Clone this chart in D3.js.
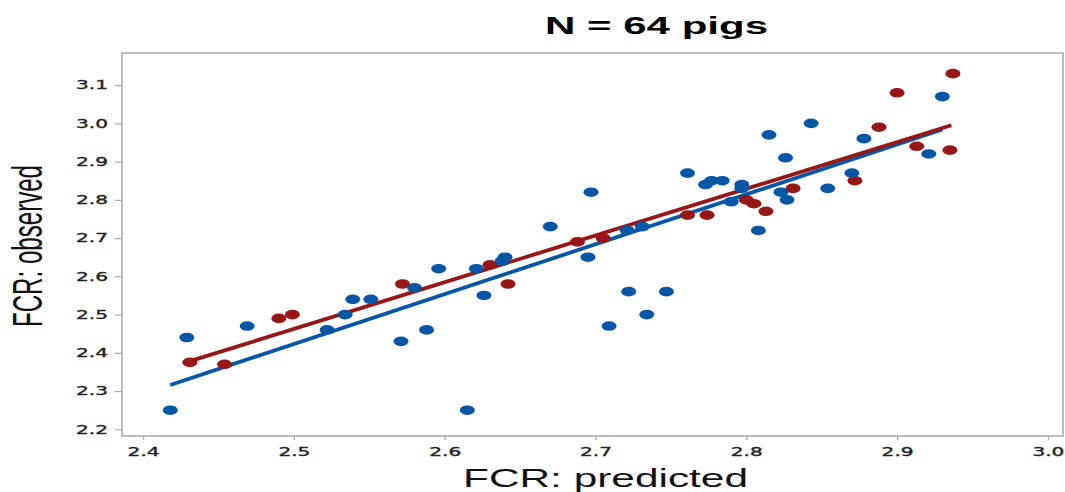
<!DOCTYPE html>
<html>
<head>
<meta charset="utf-8">
<title>FCR observed vs predicted</title>
<style>
  body { margin: 0; background: #fff; }
  .tick text { font-family: "DejaVu Sans", Verdana, sans-serif; fill: #222; stroke: #222; stroke-width: 0.35; }
</style>
<script src="https://cdn.jsdelivr.net/npm/d3@7"></script>
</head>
<body>
<script>
// values: predicted FCR (x) and observed FCR (y)
var blueX = [2.418, 2.429, 2.469, 2.522, 2.534, 2.539, 2.551, 2.571, 2.580, 2.588,
             2.596, 2.615, 2.621, 2.626, 2.638, 2.640, 2.670, 2.695, 2.697, 2.709,
             2.721, 2.722, 2.731, 2.734, 2.747, 2.761, 2.773, 2.777, 2.784, 2.790,
             2.797, 2.797, 2.808, 2.815, 2.823, 2.826, 2.827, 2.843, 2.854, 2.870,
             2.878, 2.921, 2.930];
var blueY = [2.25, 2.44, 2.47, 2.46, 2.50, 2.54, 2.54, 2.43, 2.57, 2.46,
             2.62, 2.25, 2.62, 2.55, 2.64, 2.65, 2.73, 2.65, 2.82, 2.47,
             2.72, 2.56, 2.73, 2.50, 2.56, 2.87, 2.84, 2.85, 2.85, 2.795,
             2.84, 2.83, 2.72, 2.97, 2.82, 2.91, 2.80, 3.00, 2.83, 2.87,
             2.96, 2.92, 3.07];
var redX = [2.431, 2.454, 2.490, 2.499, 2.572, 2.630, 2.642, 2.688, 2.705, 2.761,
            2.774, 2.800, 2.805, 2.813, 2.831, 2.872, 2.888, 2.900, 2.913, 2.935,
            2.937];
var redY = [2.375, 2.37, 2.49, 2.50, 2.58, 2.63, 2.58, 2.69, 2.70, 2.76,
            2.76, 2.80, 2.79, 2.77, 2.83, 2.85, 2.99, 3.08, 2.94, 2.93,
            3.13];

// fitted lines, end points
var blueFitX = [2.418, 2.930], blueFitY = [2.316, 2.984];
var redFitX = [2.430, 2.936], redFitY = [2.377, 2.995];

var xTicks = [2.4, 2.5, 2.6, 2.7, 2.8, 2.9, 3.0];
var yTicks = [2.2, 2.3, 2.4, 2.5, 2.6, 2.7, 2.8, 2.9, 3.0, 3.1];

var blueCol = "#0656a6", redCol = "#971616";

var W = 1065, H = 492;
var frame = { left: 122, top: 53, right: 1063, bottom: 436 };

var svg = d3.select("body").append("svg")
    .attr("width", W)
    .attr("height", H);

var x = d3.scaleLinear().domain([2.386, 3.010]).range([frame.left, frame.right]);
var y = d3.scaleLinear().domain([2.1825, 3.184]).range([frame.bottom, frame.top]);

function zip(a, b) { return a.map(function(v, i) { return [v, b[i]]; }); }

// axes
var yAxis = svg.append("g")
    .attr("transform", "translate(" + frame.left + ",0)")
    .call(d3.axisLeft(y).tickValues(yTicks).tickFormat(d3.format(".1f"))
        .tickSize(7).tickPadding(7));
var xAxis = svg.append("g")
    .attr("transform", "translate(0," + frame.bottom + ")")
    .call(d3.axisBottom(x).tickValues(xTicks).tickFormat(d3.format(".1f"))
        .tickSize(4).tickPadding(7.5));

[xAxis, yAxis].forEach(function(g) {
    g.select(".domain").remove();
    g.selectAll(".tick line").attr("stroke", "#a8a8a8").attr("stroke-width", 1.2);
    g.selectAll(".tick text")
        .attr("font-size", 12)
        .attr("textLength", 32)
        .attr("lengthAdjust", "spacingAndGlyphs");
});

// frame
svg.append("rect")
    .attr("x", frame.left)
    .attr("y", frame.top)
    .attr("width", frame.right - frame.left)
    .attr("height", frame.bottom - frame.top)
    .attr("fill", "none")
    .attr("stroke", "#a8a8a8")
    .attr("stroke-width", 1.5);

// fitted lines
var line = d3.line().x(function(d) { return x(d[0]); }).y(function(d) { return y(d[1]); });
svg.append("path").datum(zip(blueFitX, blueFitY))
    .attr("d", line).attr("stroke", blueCol).attr("stroke-width", 3.8).attr("fill", "none");
svg.append("path").datum(zip(redFitX, redFitY))
    .attr("d", line).attr("stroke", redCol).attr("stroke-width", 3.8).attr("fill", "none");

// points (drawn wide, as in the stretched original)
svg.append("g").selectAll("ellipse")
    .data(zip(redX, redY))
    .enter().append("ellipse")
    .attr("cx", function(d) { return x(d[0]); })
    .attr("cy", function(d) { return y(d[1]); })
    .attr("rx", 7.5).attr("ry", 4.8)
    .attr("fill", redCol);
svg.append("g").selectAll("ellipse")
    .data(zip(blueX, blueY))
    .enter().append("ellipse")
    .attr("cx", function(d) { return x(d[0]); })
    .attr("cy", function(d) { return y(d[1]); })
    .attr("rx", 7.5).attr("ry", 4.8)
    .attr("fill", blueCol);

// title and axis labels
svg.append("text")
    .attr("x", 656.5).attr("y", 33.5)
    .attr("text-anchor", "middle")
    .attr("font-family", "Liberation Sans, Arial, sans-serif")
    .attr("font-weight", "bold")
    .attr("font-size", 23)
    .attr("textLength", 223)
    .attr("lengthAdjust", "spacingAndGlyphs")
    .text("N = 64 pigs");

svg.append("text")
    .attr("x", 605.5).attr("y", 487)
    .attr("text-anchor", "middle")
    .attr("font-family", "Liberation Sans, Arial, sans-serif")
    .attr("font-size", 25)
    .attr("fill", "#111")
    .attr("textLength", 285)
    .attr("lengthAdjust", "spacingAndGlyphs")
    .text("FCR: predicted");

svg.append("text")
    .attr("transform", "translate(42,246) rotate(-90)")
    .attr("text-anchor", "middle")
    .attr("font-family", "Liberation Sans, Arial, sans-serif")
    .attr("font-size", 42)
    .attr("fill", "#111")
    .attr("textLength", 162)
    .attr("lengthAdjust", "spacingAndGlyphs")
    .text("FCR: observed");
</script>
</body>
</html>
